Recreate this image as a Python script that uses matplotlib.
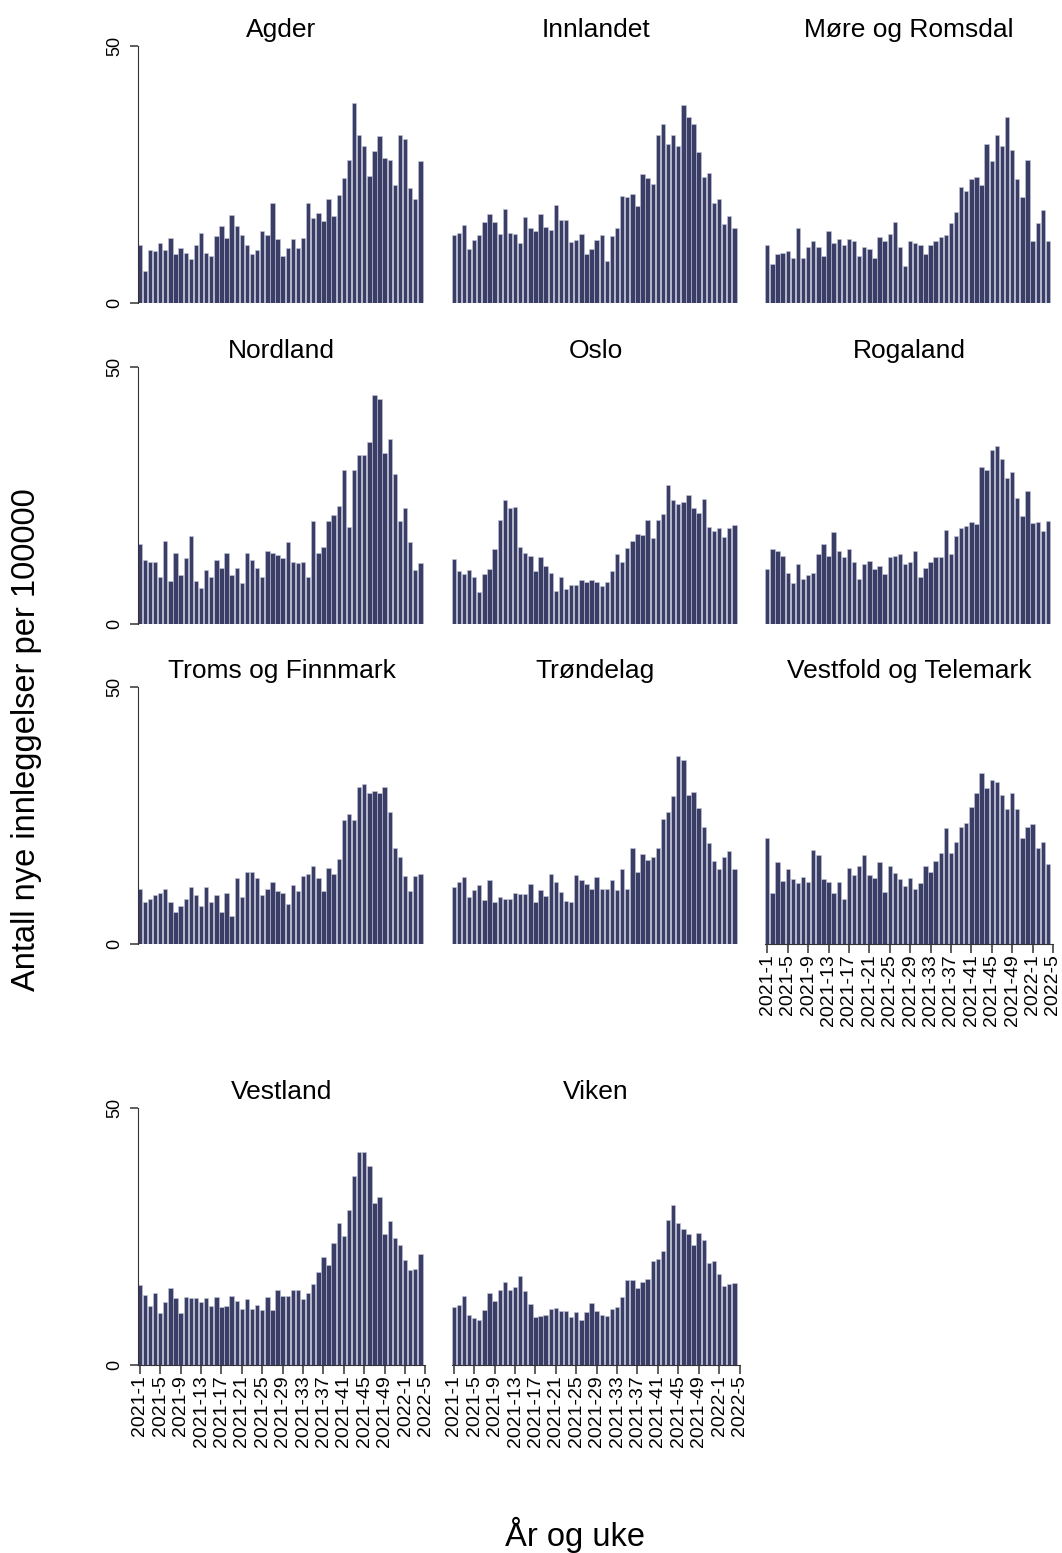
import matplotlib
matplotlib.use("Agg")
import matplotlib.pyplot as plt

plt.rcParams["font.family"] = ["Liberation Sans", "DejaVu Sans"]

BAR = "#3a3e66"
EDGE = "#c4c6d8"
AXIS = "#333333"

TICK_POS = [1, 5, 9, 13, 17, 21, 25, 29, 33, 37, 41, 45, 49, 53, 57]
TICK_LABELS = ["2021-1", "2021-5", "2021-9", "2021-13", "2021-17", "2021-21",
               "2021-25", "2021-29", "2021-33", "2021-37", "2021-41", "2021-45",
               "2021-49", "2022-1", "2022-5"]

AGDER = [11.3, 6.1, 10.3, 10.0, 11.6, 10.3, 12.6, 9.4, 10.6, 9.7, 8.4, 11.3, 13.6, 9.7,
         9.0, 12.9, 14.9, 12.6, 17.1, 14.9, 13.2, 11.3, 9.4, 10.3, 13.9, 13.2, 19.4, 12.3,
         9.0, 10.6, 12.3, 10.6, 12.6, 19.4, 16.5, 17.5, 15.8, 20.1, 16.8, 21.0, 24.3, 27.7,
         38.8, 32.7, 30.5, 24.6, 29.5, 32.4, 28.2, 27.7, 23.0, 32.7, 31.8, 22.3, 20.1, 27.5]
INNLANDET = [13.1, 13.6, 15.1, 10.5, 12.1, 13.1, 15.6, 17.2, 15.6, 13.4, 18.3, 13.6, 13.4,
             11.6, 16.6, 14.5, 14.0, 17.2, 14.8, 14.2, 19.1, 16.1, 16.1, 11.8, 12.1, 13.4,
             9.4, 10.5, 12.1, 13.1, 8.0, 12.9, 14.5, 20.7, 20.5, 21.2, 18.8, 25.0, 24.2,
             23.1, 32.6, 34.7, 30.8, 32.6, 30.5, 38.5, 36.2, 34.7, 29.4, 24.5, 25.3, 19.4,
             20.2, 15.3, 16.9, 14.5]
MORE_ROMSDAL = [11.3, 7.5, 9.4, 9.7, 10.1, 8.6, 14.6, 8.6, 10.8, 11.9, 10.8, 9.0, 13.9,
                11.6, 12.3, 11.2, 12.3, 11.9, 9.0, 10.8, 10.5, 8.6, 12.7, 11.9, 13.4, 15.7,
                10.8, 7.1, 11.9, 11.6, 11.2, 9.4, 11.2, 11.9, 12.7, 13.1, 15.4, 17.6, 22.5,
                21.8, 24.0, 24.4, 22.9, 30.8, 27.5, 32.7, 30.5, 36.2, 29.7, 24.0, 20.6, 27.8,
                11.9, 15.4, 18.0, 11.9]
NORDLAND = [15.4, 12.4, 12.0, 12.0, 9.0, 16.1, 8.3, 13.7, 9.5, 12.8, 17.1, 8.3, 7.0, 10.4,
            9.0, 12.4, 10.8, 13.7, 9.5, 10.8, 7.9, 13.7, 12.4, 10.8, 9.0, 14.2, 13.7, 13.4,
            12.8, 15.8, 12.0, 11.7, 12.0, 9.0, 20.0, 13.7, 15.0, 20.0, 21.2, 22.9, 30.0, 18.8,
            30.0, 32.9, 32.9, 35.4, 44.5, 43.7, 33.3, 35.9, 29.2, 20.0, 22.5, 15.8, 10.4, 11.7]
OSLO = [12.5, 10.2, 9.7, 10.5, 9.1, 6.2, 9.7, 10.7, 14.6, 20.2, 24.0, 22.5, 22.8, 15.0, 13.8,
        13.2, 10.2, 12.9, 11.3, 9.9, 6.3, 9.1, 6.8, 7.6, 7.6, 8.5, 8.1, 8.5, 8.0, 7.4, 8.0,
        10.2, 13.6, 12.0, 14.8, 16.1, 17.5, 17.3, 20.1, 16.7, 20.2, 21.4, 27.0, 24.0, 23.2,
        23.6, 25.0, 22.5, 21.6, 24.3, 18.9, 18.0, 18.6, 16.9, 18.6, 19.2]
ROGALAND = [10.7, 14.5, 14.1, 13.2, 9.9, 7.9, 11.6, 8.6, 9.5, 9.8, 13.6, 15.5, 13.2, 17.8,
            14.1, 13.0, 14.6, 12.0, 8.6, 11.6, 12.2, 10.7, 11.3, 9.7, 13.0, 13.2, 13.6, 11.6,
            12.0, 14.1, 9.0, 10.9, 12.0, 13.0, 13.0, 18.2, 13.6, 17.0, 18.7, 19.0, 19.7, 19.4,
            30.5, 29.9, 33.8, 34.6, 32.0, 28.4, 29.6, 24.4, 20.9, 25.8, 19.5, 19.7, 18.0, 19.9]
TROMS_FINNMARK = [10.7, 8.1, 8.6, 9.4, 9.9, 10.7, 8.1, 6.1, 7.4, 8.6, 11.1, 9.4, 7.4, 11.1,
                  8.1, 9.4, 6.1, 9.9, 5.3, 12.8, 9.0, 14.0, 14.0, 12.8, 9.4, 10.7, 11.9, 10.2,
                  9.9, 7.7, 11.5, 10.2, 13.2, 13.5, 15.2, 12.8, 10.2, 14.8, 13.5, 16.5, 24.0,
                  25.2, 24.0, 30.5, 31.0, 29.4, 29.8, 29.4, 30.5, 25.6, 18.6, 16.9, 13.2, 10.2,
                  13.2, 13.5]
TRONDELAG = [11.0, 12.0, 12.9, 9.1, 10.5, 11.4, 8.4, 12.4, 8.0, 9.1, 8.6, 8.6, 9.9, 9.7, 9.7,
             11.6, 8.0, 10.4, 9.3, 13.5, 12.0, 10.1, 8.2, 8.0, 13.3, 12.4, 11.6, 10.7, 12.9,
             10.7, 10.7, 12.4, 10.5, 14.6, 10.7, 18.6, 13.9, 17.5, 16.3, 16.9, 18.6, 24.2,
             25.7, 28.8, 36.5, 35.7, 29.0, 29.6, 26.4, 22.8, 19.5, 16.0, 14.6, 16.9, 18.0, 14.6]
VESTFOLD_TELEMARK = [20.6, 9.9, 15.8, 12.2, 14.5, 12.5, 11.8, 13.0, 12.0, 18.2, 17.3, 12.5,
                     12.0, 9.9, 12.0, 8.7, 14.8, 13.3, 15.2, 17.3, 13.4, 12.8, 15.8, 10.1,
                     15.1, 13.7, 12.5, 11.3, 12.8, 10.6, 11.8, 15.1, 13.9, 16.1, 17.7, 22.5,
                     17.7, 19.7, 22.7, 23.4, 26.6, 29.4, 33.2, 30.3, 31.8, 31.5, 28.9, 26.3,
                     29.4, 26.3, 20.6, 22.7, 23.2, 18.6, 19.7, 15.4]
VESTLAND = [15.4, 13.6, 11.4, 13.9, 10.1, 12.1, 15.0, 12.9, 10.0, 13.1, 12.9, 12.9, 12.1,
            12.9, 11.4, 13.1, 11.2, 11.4, 13.4, 12.3, 10.8, 12.8, 10.9, 11.6, 10.6, 13.1,
            10.6, 14.6, 13.3, 13.4, 14.5, 14.6, 12.7, 14.0, 15.6, 18.1, 21.0, 19.4, 23.6,
            27.6, 25.0, 30.2, 36.8, 41.4, 41.4, 38.6, 31.4, 32.7, 25.5, 28.0, 24.7, 23.2,
            20.3, 18.4, 18.6, 21.6]
VIKEN = [11.3, 11.6, 13.4, 9.6, 9.1, 8.6, 10.7, 14.0, 12.4, 14.6, 16.0, 14.5, 15.1, 17.2,
         14.4, 11.7, 9.2, 9.4, 9.7, 10.8, 11.0, 10.4, 10.5, 9.3, 10.3, 8.6, 10.3, 11.9, 10.5,
         9.7, 9.4, 10.9, 11.3, 13.1, 16.4, 16.4, 14.9, 16.0, 16.7, 20.1, 20.5, 22.1, 28.1,
         31.0, 27.6, 26.5, 25.5, 23.2, 25.6, 24.3, 19.8, 20.2, 17.6, 15.3, 15.6, 15.8]

REGIONS = ["Agder", "Innlandet", "Møre og Romsdal", "Nordland", "Oslo", "Rogaland",
           "Troms og Finnmark", "Trøndelag", "Vestfold og Telemark", "Vestland", "Viken"]
VALUES = [AGDER, INNLANDET, MORE_ROMSDAL, NORDLAND, OSLO, ROGALAND, TROMS_FINNMARK,
          TRONDELAG, VESTFOLD_TELEMARK, VESTLAND, VIKEN]

W, H = 1062, 1553
COL_LEFT = [137.5, 451.5, 765.0]
COL_W = 288.0
ROW_TOP = [46.0, 367.0, 687.0, 1108.0]
ROW_H = 256.5
BOTTOM_PANELS = {8, 9, 10}

fig = plt.figure(figsize=(W / 100, H / 100), dpi=100)

for i, (name, vals) in enumerate(zip(REGIONS, VALUES)):
    r, c = divmod(i, 3)
    left, top = COL_LEFT[c], ROW_TOP[r]
    ax = fig.add_axes([left / W, 1 - (top + ROW_H) / H, COL_W / W, ROW_H / H])
    x = list(range(1, len(vals) + 1))
    ax.bar(x, vals, width=0.86, color=BAR, edgecolor=EDGE, linewidth=0.4)
    ax.set_xlim(0.55, 57)
    ax.set_ylim(0, 50)
    ax.set_title(name, fontsize=19, pad=6.5)
    for s in ["top", "right"]:
        ax.spines[s].set_visible(False)
    ax.spines["left"].set_color(AXIS)
    ax.spines["bottom"].set_color(AXIS)

    if c == 0:
        ax.set_yticks([0, 50])
        ax.tick_params(axis="y", length=6, width=1.1, colors=AXIS,
                       labelsize=13, labelrotation=90, pad=4, labelcolor="black")
        for lab in ax.get_yticklabels():
            lab.set_va("center")
    else:
        ax.spines["left"].set_visible(False)
        ax.set_yticks([])

    if i in BOTTOM_PANELS:
        ax.set_xticks(TICK_POS)
        ax.set_xticklabels(TICK_LABELS, rotation=90)
        ax.tick_params(axis="x", length=6.5, width=1.1, colors=AXIS,
                       labelsize=14, pad=1.5, labelcolor="black")
    else:
        ax.spines["bottom"].set_visible(False)
        ax.set_xticks([])

fig.text(27 / W, 1 - 740 / H, "Antall nye innleggelser per 100000", rotation=90,
         ha="center", va="center", fontsize=23.5)
fig.text(575 / W, 1 - 1535 / H, "År og uke", ha="center", va="center", fontsize=23.5)

fig.savefig("out.png", dpi=100, facecolor="white")
